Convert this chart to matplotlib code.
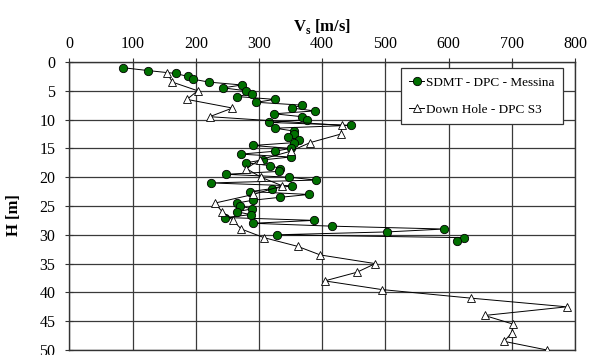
import matplotlib
matplotlib.use('Agg')
import matplotlib.pyplot as plt

plt.rcParams['font.family'] = 'Liberation Serif'
plt.rcParams['mathtext.fontset'] = 'custom'
plt.rcParams['mathtext.rm'] = 'Liberation Serif'
plt.rcParams['mathtext.bf'] = 'Liberation Serif:bold'

# SDMT - DPC - Messina (depth [m], Vs [m/s])
sdmt_depth = [1.0, 1.5, 2.0, 2.5, 3.0, 3.5, 4.0, 4.5, 5.0, 5.5,
              6.0, 6.5, 7.0, 7.5, 8.0, 8.5, 9.0, 9.5, 10.0, 10.5,
              11.0, 11.5, 12.0, 12.5, 13.0, 13.5, 14.0, 14.5, 15.0, 15.5,
              16.0, 16.5, 17.0, 17.5, 18.0, 18.5, 19.0, 19.5, 20.0, 20.5,
              21.0, 21.5, 22.0, 22.5, 23.0, 23.5, 24.0, 24.5, 25.0, 25.5,
              26.0, 26.5, 27.0, 27.5, 28.0, 28.5, 29.0, 29.5, 30.0, 30.5,
              31.0]
sdmt_vs = [85, 125, 168, 187, 196, 221, 273, 243, 280, 289,
           265, 325, 296, 368, 352, 388, 324, 368, 376, 316,
           446, 325, 356, 355, 346, 363, 356, 290, 350, 325,
           271, 350, 306, 280, 318, 334, 331, 248, 347, 391,
           224, 353, 320, 286, 379, 333, 290, 265, 270, 289,
           265, 287, 247, 387, 290, 415, 593, 503, 328, 624,
           614]

# Down Hole - DPC S3
dh_depth = [2.0, 3.5, 5.0, 6.5, 8.0, 9.5, 11.0, 12.5, 14.0, 15.5,
            17.0, 18.5, 20.0, 21.5, 23.0, 24.5, 26.0, 27.5, 29.0, 30.5,
            32.0, 33.5, 35.0, 36.5, 38.0, 39.5, 41.0, 42.5, 44.0, 45.5,
            47.0, 48.5, 50.0]
dh_vs = [155, 163, 203, 186, 258, 222, 431, 430, 381, 350,
         301, 280, 303, 337, 291, 230, 242, 259, 272, 308,
         361, 397, 484, 455, 404, 494, 636, 787, 657, 702,
         700, 688, 756]

x_ticks = [0, 100, 200, 300, 400, 500, 600, 700, 800]
y_ticks = [0, 5, 10, 15, 20, 25, 30, 35, 40, 45, 50]

fig = plt.figure(figsize=(5.98, 3.55), dpi=100)
ax = fig.add_axes([0.116, 0.014, 0.8455, 0.8115])

ax.plot(sdmt_vs, sdmt_depth, color='black', lw=0.7, marker='o', ms=6,
        mfc='#007000', mec='black', mew=0.6, label='SDMT - DPC - Messina', zorder=3)
ax.plot(dh_vs, dh_depth, color='black', lw=0.7, marker='^', ms=5.5,
        mfc='white', mec='black', mew=0.6, label='Down Hole - DPC S3', zorder=4)

ax.set_xlim(0, 800)
ax.set_ylim(50, 0)
ax.set_xticks(x_ticks)
ax.set_yticks(y_ticks)
ax.xaxis.tick_top()
ax.xaxis.set_label_position('top')
ax.tick_params(axis='both', labelsize=11.5, direction='inout', length=6, width=0.8, color='#333333')
ax.tick_params(axis='x', pad=4)
ax.tick_params(axis='y', pad=7)
ax.grid(True, color='#3a3a3a', lw=0.9)
ax.set_axisbelow(True)
for s in ax.spines.values():
    s.set_color('#333333')
    s.set_linewidth(1.0)

ax.set_xlabel(r'V$_\mathbf{s}$ [m/s]', fontsize=12, fontweight='bold', labelpad=4)
ax.set_ylabel('H [m]', fontsize=12, fontweight='bold')
ax.yaxis.set_label_coords(-0.093, 0.47)

leg = ax.legend(loc='upper right', bbox_to_anchor=(0.976, 0.979), borderaxespad=0,
                fontsize=9.5, handlelength=1.1, handletextpad=0.15, labelspacing=1.1,
                borderpad=0.65, fancybox=False, framealpha=1)
leg.get_frame().set_edgecolor('#333333')
leg.get_frame().set_linewidth(0.9)

fig.savefig('out.png', dpi=100)
